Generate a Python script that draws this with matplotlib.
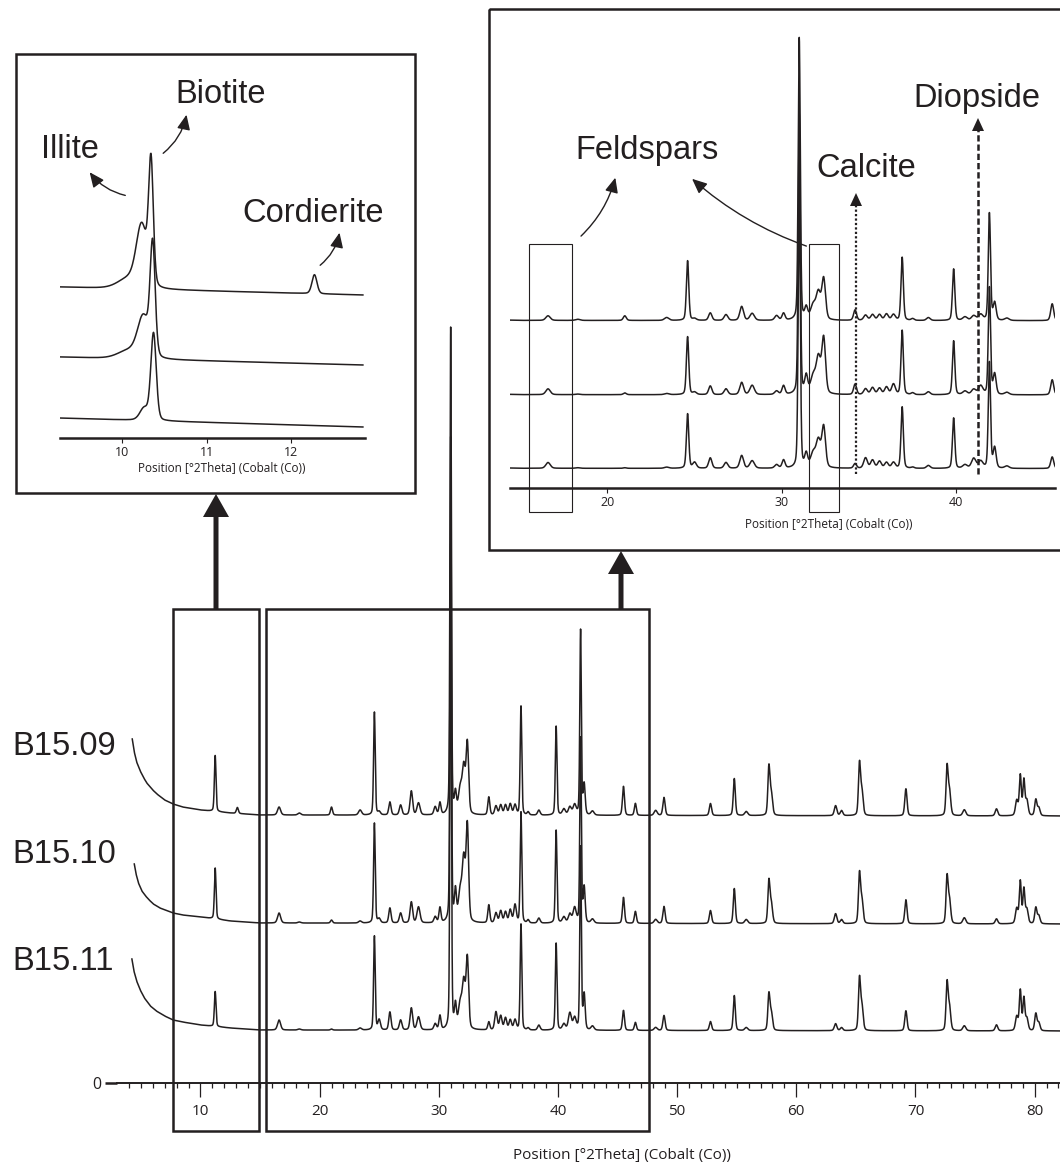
import numpy as np
import matplotlib
matplotlib.use('Agg')
import matplotlib.pyplot as plt
from matplotlib.patches import Rectangle, FancyArrowPatch, FancyArrow, Polygon

W, H = 1060, 1168
INK = '#231f20'
LABEL_FONT = 'Liberation Sans'
AXIS_FONT = 'Open Sans'

#-------------------------------------------------------------------------------
# Main pattern: peak positions (deg 2Theta), widths and heights per sample
peak_pos = [11.24, 13.1, 16.6, 18.3, 21.0, 23.4, 24.6, 25.0, 25.9, 26.8,
            27.7, 28.3, 29.7, 30.1, 31.0, 31.4, 31.8, 32.1, 32.4, 34.2,
            34.8, 35.2, 35.6, 36.0, 36.4, 36.9, 37.5, 38.4, 39.85, 40.5,
            41.0, 41.4, 41.9, 42.2, 42.9, 45.5, 46.5, 48.2, 48.9, 52.8,
            54.8, 55.8, 57.7, 57.9, 63.3, 63.8, 65.3, 65.5, 69.2, 72.65,
            72.85, 74.1, 76.8, 78.5, 78.8, 79.1, 79.35, 80.1, 80.35]
peak_fwhm = [0.16, 0.2, 0.3, 0.3, 0.2, 0.3, 0.16, 0.25, 0.22, 0.25,
             0.25, 0.3, 0.25, 0.2, 0.14, 0.2, 0.35, 0.3, 0.25, 0.2,
             0.25, 0.25, 0.25, 0.25, 0.25, 0.16, 0.2, 0.25, 0.16, 0.3,
             0.3, 0.3, 0.15, 0.2, 0.3, 0.2, 0.2, 0.3, 0.22, 0.22,
             0.2, 0.3, 0.2, 0.25, 0.25, 0.25, 0.2, 0.25, 0.22, 0.2,
             0.25, 0.3, 0.25, 0.25, 0.2, 0.2, 0.25, 0.22, 0.25]
b1509 = [56, 6, 8, 2, 8, 5, 103, 3, 13, 10,
         24, 12, 8, 12, 487, 20, 25, 45, 70, 18,
         9, 10, 10, 11, 10, 109, 3, 5, 89, 6,
         8, 10, 185, 30, 4, 29, 12, 5, 18, 12,
         37, 4, 47, 22, 10, 5, 50, 25, 27, 47,
         25, 6, 7, 15, 40, 35, 15, 16, 8]
b1510 = [51, 0, 10, 1, 3, 2, 100, 4, 15, 10,
         21, 16, 6, 15, 485, 30, 30, 60, 95, 18,
         10, 12, 11, 13, 18, 111, 3, 5, 93, 6,
         9, 15, 185, 35, 4, 26, 12, 4, 17, 13,
         35, 4, 41, 20, 10, 4, 48, 24, 24, 45,
         24, 6, 5, 15, 42, 34, 14, 16, 8]
b1511 = [35, 0, 10, 1, 1, 2, 94, 10, 18, 10,
         22, 13, 6, 14, 485, 23, 25, 45, 70, 8,
         18, 14, 12, 10, 10, 106, 2, 5, 87, 6,
         17, 12, 183, 35, 4, 20, 8, 3, 15, 9,
         35, 3, 35, 18, 7, 3, 50, 25, 20, 46,
         24, 5, 6, 14, 40, 32, 12, 17, 8]

# low angle background, read as (deg, height) points
bg1509_x = [4.28, 4.45, 4.65, 4.95, 5.25, 5.5, 6.0, 6.35, 7.0, 7.7, 8.5,
            10.0, 12.5, 15.0, 82.13]
bg1509_y = [77, 64, 54, 45, 38, 33, 26, 22, 16, 12, 9, 6, 3, 1, 0]
bg1510_x = [4.45, 4.6, 4.8, 5.09, 5.4, 5.7, 6.05, 6.6, 7.7, 8.5, 10.0,
            12.5, 15.0, 82.13]
bg1510_y = [60, 50, 41, 33, 28, 24, 20, 16, 11, 9, 7, 3, 1, 0]
bg1511_x = [4.25, 4.42, 4.65, 4.95, 5.3, 5.8, 6.3, 7.0, 7.7, 8.5, 10.0,
            12.5, 15.0, 82.13]
bg1511_y = [72, 60, 50, 41, 33, 25, 20, 15, 11, 9, 6, 3, 1, 0]

sample_names = ['B15.09', 'B15.10', 'B15.11']
main_offsets = [267, 159, 52]
inset2_offsets = [288, 160, 33]

# Inset 1 (mica region, separate scan)
i1_pos = [[10.08, 10.23, 10.34, 12.28], [10.08, 10.25, 10.36], [10.26, 10.37]]
i1_fwhm = [[0.3, 0.15, 0.065, 0.07], [0.3, 0.16, 0.07], [0.12, 0.075]]
i1_height = [[10, 60, 120, 19], [8, 40, 109], [12, 87]]
i1_base_x = [9.24, 12.86]
i1_base_y = [[151, 143], [81, 73], [20, 11]]


def px_rect(x0, y0, x1, y1):
    """Pixel box (origin top left) to figure fraction rect."""
    return [x0 / W, 1 - y1 / H, (x1 - x0) / W, (y1 - y0) / H]


def profile(x, pos, fwhm, height, eta=0.3):
    y = np.zeros_like(x)
    for p, w, h in zip(pos, fwhm, height):
        u = (x - p) / (w / 2.0)
        y += h * (eta / (1 + u ** 2) + (1 - eta) * np.exp(-np.log(2) * u ** 2))
    return y


def style_axis(ax, lw):
    for s in ['top', 'right', 'left']:
        ax.spines[s].set_visible(False)
    ax.spines['bottom'].set_linewidth(lw)
    ax.spines['bottom'].set_color(INK)
    ax.patch.set_alpha(0)


fig = plt.figure(figsize=(W / 100, H / 100), dpi=100)

# --- main pattern
ax = fig.add_axes(px_rect(117, 300, 1060, 1083))
ax.set_xlim(3.0, 82.13)
ax.set_ylim(0, 783)
style_axis(ax, 1.4)

patterns = []
for heights, bx, by in [(b1509, bg1509_x, bg1509_y),
                        (b1510, bg1510_x, bg1510_y),
                        (b1511, bg1511_x, bg1511_y)]:
    x = np.arange(bx[0], 82.13, 0.01)
    y = profile(x, peak_pos, peak_fwhm, heights) + np.interp(x, bx, by)
    patterns.append((x, y))

for (x, y), off in zip(patterns, main_offsets):
    ax.plot(x, y + off, color=INK, lw=1.1)

ax.set_xticks(range(10, 90, 10))
ax.set_xticks(range(4, 83), minor=True)
ax.tick_params(axis='x', which='major', direction='out', length=10, width=0.9,
               color=INK, labelsize=11, pad=5, labelcolor=INK)
ax.tick_params(axis='x', which='minor', direction='out', length=3.6, width=0.9,
               color=INK)
ax.set_yticks([0])
ax.set_yticklabels(['0'])
ax.tick_params(axis='y', direction='out', length=8.6, width=1.8, color=INK,
               labelsize=11.5, pad=3, labelcolor=INK)
for lab in ax.get_xticklabels() + ax.get_yticklabels():
    lab.set_family(AXIS_FONT)

# highlight boxes on the main pattern
for x0, x1 in [(7.72, 14.93), (15.52, 47.65)]:
    ax.add_patch(Rectangle((x0, -48), x1 - x0, 522, fill=False, lw=1.8,
                           ec=INK, clip_on=False))

# --- inset 1
a1 = fig.add_axes(px_rect(60, 130, 365, 438))
a1.set_xlim(9.26, 12.88)
a1.set_ylim(0, 308)
style_axis(a1, 1.8)
for pos, fw, hh, base in zip(i1_pos, i1_fwhm, i1_height, i1_base_y):
    x = np.arange(i1_base_x[0], i1_base_x[1], 0.005)
    y = profile(x, pos, fw, hh, eta=0.2) + np.interp(x, i1_base_x, base)
    a1.plot(x, y, color=INK, lw=1.1)
a1.set_xticks([10, 11, 12])
a1.set_yticks([])
a1.tick_params(axis='x', direction='out', length=3.5, width=0.8, color=INK,
               labelsize=9, pad=2, labelcolor=INK)
for lab in a1.get_xticklabels():
    lab.set_family(AXIS_FONT)

# --- inset 2
a2 = fig.add_axes(px_rect(510, 20, 1055, 488))
a2.set_xlim(14.42, 45.66)
a2.set_ylim(0, 807)
style_axis(a2, 1.8)
for (x, y), off in zip(patterns, inset2_offsets):
    a2.plot(x, y + off, color=INK, lw=1.1)
a2.set_xticks([20, 30, 40])
a2.set_yticks([])
a2.tick_params(axis='x', direction='out', length=3.5, width=0.8, color=INK,
               labelsize=9, pad=2, labelcolor=INK)
for lab in a2.get_xticklabels():
    lab.set_family(AXIS_FONT)

# --- overlay for frames, arrows and labels (pixel coordinates)
ov = fig.add_axes([0, 0, 1, 1])
ov.set_xlim(0, W)
ov.set_ylim(H, 0)
ov.axis('off')
ov.patch.set_alpha(0)

ov.add_patch(Rectangle((16, 54), 399, 439, fill=False, lw=1.8, ec=INK))
ov.add_patch(Rectangle((489, 9), 600, 541, fill=False, lw=1.8, ec=INK))
ov.add_patch(Rectangle((529, 244), 43, 268, fill=False, lw=0.8, ec=INK))
ov.add_patch(Rectangle((809, 244), 30, 268, fill=False, lw=0.8, ec=INK))

for xa, y0, y1 in [(216, 609, 494), (621, 609, 551)]:
    ov.add_patch(FancyArrow(xa, y0, 0, y1 - y0, width=5, head_width=26,
                            head_length=23, length_includes_head=True,
                            color=INK, lw=0))

curved = [((128, 196), (88, 170), -0.2),
          ((161, 155), (187, 112), 0.2),
          ((318, 267), (340, 230), 0.2),
          ((579, 238), (616, 175), 0.15),
          ((809, 247), (690, 177), -0.1)]
for start, end, rad in curved:
    ov.add_patch(FancyArrowPatch(start, end,
                                 connectionstyle='arc3,rad=%s' % rad,
                                 arrowstyle='-|>,head_length=0.9,head_width=0.4',
                                 mutation_scale=10, lw=1.0, color=INK))

ov.plot([856, 856], [474, 204], color=INK, lw=1.6, ls=(0, (1, 1)))
ov.add_patch(Polygon([(856, 193), (850, 206), (862, 206)], color=INK, lw=0))
ov.plot([978, 978], [474, 129], color=INK, lw=1.8, ls=(0, (2.5, 1.2)))
ov.add_patch(Polygon([(978, 118), (972, 131), (984, 131)], color=INK, lw=0))

labels = [('Illite', 70, 158), ('Biotite', 221, 103), ('Cordierite', 313, 222),
          ('Feldspars', 647, 159), ('Calcite', 866, 177), ('Diopside', 977, 107)]
for s, x, y in labels:
    ov.text(x, y, s, ha='center', va='baseline', fontsize=23.5,
            family=LABEL_FONT, color=INK)
for s, y in zip(sample_names, [755, 863, 970]):
    ov.text(12, y, s, ha='left', va='baseline', fontsize=23.5,
            family=LABEL_FONT, color=INK)

ov.text(622, 1156, 'Position [°2Theta] (Cobalt (Co))', ha='center',
        va='center', fontsize=11, family=AXIS_FONT, color=INK)
ov.text(222, 469, 'Position [°2Theta] (Cobalt (Co))', ha='center',
        va='center', fontsize=8.5, family=AXIS_FONT, color=INK)
ov.text(829, 525, 'Position [°2Theta] (Cobalt (Co))', ha='center',
        va='center', fontsize=8.5, family=AXIS_FONT, color=INK)

fig.savefig('out.png', dpi=100)
